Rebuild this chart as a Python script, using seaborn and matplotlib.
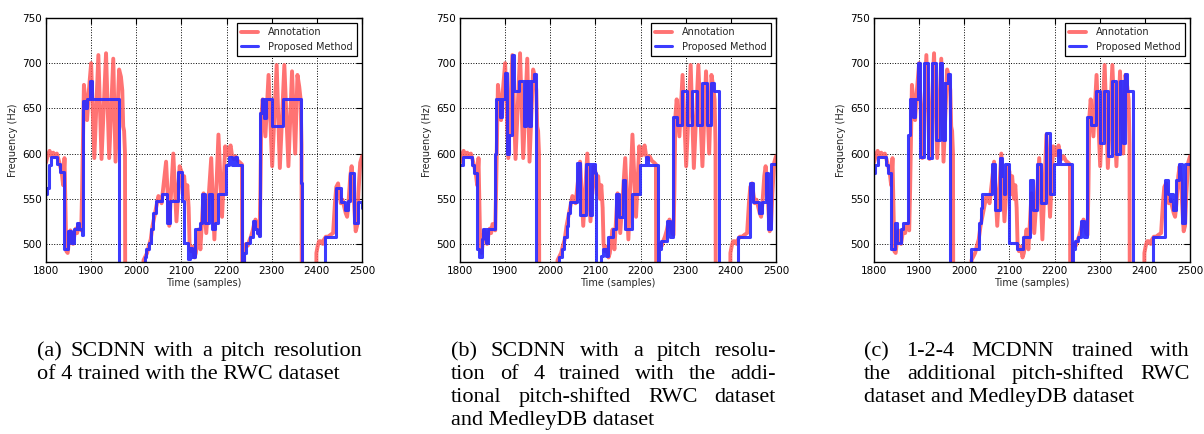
import numpy as np
import pandas as pd
import matplotlib
matplotlib.use("Agg")
import matplotlib.pyplot as plt
import seaborn as sns

# ---------------- data ----------------
# Annotation (same for all panels): knot times and frequencies (0 = unvoiced)
ann_t = [1800, 1804, 1808, 1812, 1816, 1820, 1824, 1828, 1832, 1835, 1838, 1841, 1845, 1848,
         1851, 1854, 1857, 1860, 1863, 1866, 1869, 1872, 1876, 1878, 1880, 1884, 1887, 1891,
         1895, 1900, 1907, 1916, 1923, 1933, 1940, 1949, 1954, 1962, 1966, 1969, 1971, 1973,
         1975, 1977, 2014, 2016, 2020, 2024, 2028, 2032, 2036, 2040, 2044, 2049, 2052, 2056,
         2066, 2073, 2082, 2089, 2096, 2100, 2103, 2106, 2110, 2113, 2116, 2118, 2121, 2125,
         2129, 2132, 2135, 2138, 2142, 2149, 2155, 2166, 2173, 2182, 2190, 2197, 2200, 2203,
         2206, 2209, 2212, 2216, 2220, 2225, 2230, 2234, 2237, 2239, 2243, 2247, 2250, 2254,
         2258, 2261, 2264, 2267, 2270, 2273, 2275, 2277, 2280, 2286, 2293, 2301, 2311, 2318,
         2328, 2337, 2345, 2352, 2357, 2361, 2364, 2366, 2368, 2397, 2399, 2402, 2405, 2409,
         2413, 2416, 2420, 2425, 2430, 2436, 2440, 2443, 2447, 2450, 2453, 2457, 2461, 2464,
         2467, 2470, 2474, 2477, 2480, 2483, 2486, 2489, 2492, 2496, 2500]
ann_hz = [590, 598, 603, 597, 601, 596, 600, 593, 585, 578, 565, 595, 492, 490,
          505, 515, 508, 500, 510, 517, 512, 522, 518, 515, 560, 676, 660, 637,
          670, 700, 595, 709, 594, 711, 595, 705, 591, 693, 685, 670, 630, 625,
          600, 0, 0, 482, 486, 490, 498, 505, 520, 530, 540, 553, 550, 545,
          591, 520, 600, 525, 586, 580, 555, 575, 550, 565, 540, 500, 492, 497,
          485, 490, 505, 516, 494, 556, 512, 595, 505, 621, 530, 608, 600, 598,
          606, 609, 598, 594, 597, 592, 590, 588, 0, 495, 500, 498, 503, 508,
          515, 522, 527, 522, 512, 510, 560, 640, 660, 619, 687, 586, 698, 584,
          698, 586, 691, 600, 687, 674, 660, 610, 0, 0, 490, 498, 503, 503,
          500, 505, 508, 508, 510, 512, 545, 563, 567, 555, 545, 549, 540, 534,
          530, 545, 575, 586, 570, 540, 514, 520, 556, 590, 597]

# Proposed method, panel (a): step start times and values
a_t = [1800, 1803, 1806, 1812, 1825, 1830, 1840, 1848, 1855, 1862, 1868, 1874, 1879, 1882,
       1886, 1890, 1897, 1902, 1962, 2019, 2022, 2029, 2033, 2038, 2044, 2058, 2067, 2074,
       2092, 2101, 2105, 2115, 2119, 2124, 2130, 2142, 2146, 2153, 2160, 2168, 2175, 2180,
       2199, 2205, 2212, 2218, 2224, 2235, 2239, 2243, 2251, 2258, 2263, 2267, 2271, 2275,
       2279, 2283, 2287, 2300, 2324, 2364, 2366, 2417, 2443, 2453, 2462, 2468, 2474, 2482,
       2491, 2500]
a_hz = [555, 562, 587, 596, 588, 580, 494, 514, 501, 516, 523, 516, 510, 658,
        650, 660, 680, 660, 0, 485, 494, 501, 516, 534, 547, 555, 523, 547,
        580, 547, 501, 483, 496, 486, 516, 523, 555, 523, 555, 516, 523, 555,
        587, 596, 587, 596, 587, 0, 490, 501, 508, 525, 516, 512, 509, 645,
        660, 639, 660, 631, 660, 567, 0, 508, 562, 546, 537, 548, 578, 523,
        546, 540]

# Proposed method, panel (b)
b_t = [1800, 1806, 1826, 1830, 1838, 1843, 1848, 1852, 1857, 1862, 1878, 1880, 1888, 1894,
       1899, 1904, 1909, 1915, 1920, 1931, 1941, 1946, 1952, 1957, 1963, 1968, 2019, 2025,
       2030, 2036, 2040, 2043, 2059, 2066, 2080, 2087, 2093, 2099, 2102, 2112, 2117, 2123,
       2128, 2140, 2146, 2153, 2160, 2166, 2182, 2199, 2212, 2216, 2238, 2240, 2245, 2253,
       2259, 2266, 2272, 2281, 2292, 2302, 2313, 2324, 2336, 2347, 2356, 2362, 2373, 2416,
       2443, 2450, 2463, 2468, 2478, 2483, 2490, 2500]
b_hz = [587, 596, 587, 579, 494, 486, 505, 516, 501, 516, 600, 660, 640, 660,
        689, 600, 620, 709, 669, 680, 631, 680, 631, 680, 688, 0, 486, 494,
        508, 520, 534, 546, 590, 532, 588, 532, 588, 578, 0, 487, 494, 487,
        508, 516, 555, 530, 571, 516, 555, 587, 596, 587, 0, 494, 503, 503,
        525, 508, 641, 632, 669, 632, 669, 632, 678, 632, 678, 669, 0, 508,
        567, 546, 534, 546, 578, 516, 588, 588]

# Proposed method, panel (c)
c_t = [1800, 1803, 1809, 1826, 1830, 1838, 1847, 1852, 1859, 1864, 1876, 1879, 1886, 1891,
       1897, 1903, 1910, 1919, 1929, 1937, 1946, 1950, 1953, 1957, 1963, 1968, 2014, 2032,
       2036, 2040, 2061, 2068, 2079, 2083, 2088, 2090, 2100, 2116, 2130, 2145, 2152, 2161,
       2169, 2181, 2190, 2199, 2207, 2213, 2238, 2240, 2245, 2253, 2259, 2266, 2272, 2281,
       2292, 2301, 2310, 2318, 2327, 2336, 2345, 2351, 2356, 2360, 2373, 2419, 2444, 2452,
       2455, 2459, 2462, 2470, 2476, 2482, 2490, 2500]
c_hz = [578, 587, 596, 587, 579, 494, 523, 501, 516, 523, 621, 660, 640, 660,
        700, 596, 700, 595, 700, 615, 700, 678, 615, 678, 688, 0, 494, 523,
        540, 555, 588, 538, 595, 575, 555, 588, 501, 494, 508, 571, 538, 588,
        545, 623, 555, 588, 604, 588, 0, 494, 503, 508, 525, 508, 641, 632,
        669, 612, 669, 597, 680, 600, 680, 612, 688, 669, 0, 508, 571, 555,
        547, 555, 538, 571, 588, 523, 588, 588]

x_ticks = [1800, 1900, 2000, 2100, 2200, 2300, 2400, 2500]
y_ticks = [500, 550, 600, 650, 700, 750]
series_names = ["Annotation", "Proposed Method"]
x_label = "Time (samples)"
y_label = "Frequency (Hz)"

captions = [
    [("(a) SCDNN with a pitch resolution", True), ("of 4 trained with the RWC dataset", False)],
    [("(b) SCDNN with a pitch resolu-", True), ("tion of 4 trained with the addi-", True),
     ("tional pitch-shifted RWC dataset", True), ("and MedleyDB dataset", False)],
    [("(c) 1-2-4 MCDNN trained with", True), ("the additional pitch-shifted RWC", True),
     ("dataset and MedleyDB dataset", False)],
]

# ---------------- style ----------------
sns.set_style("white")
plt.rcParams["font.family"] = ["DejaVu Sans"]
plt.rcParams.update({
    "xtick.direction": "in", "ytick.direction": "in",
    "xtick.top": True, "ytick.right": True,
    "xtick.major.size": 4, "ytick.major.size": 4,
    "xtick.color": "black", "ytick.color": "black",
    "axes.edgecolor": "black", "axes.linewidth": 1.0,
})

W, H = 1204, 434
fig = plt.figure(figsize=(W / 100, H / 100), dpi=100)

RED = "#ff5a5a"
BLUE = "#2b2bff"

panel_left = [46, 460, 874]
blue_sets = [(a_t, a_hz), (b_t, b_hz), (c_t, c_hz)]
ax_top, ax_bot = 18, 262
ax_w = 316

ann_df = pd.DataFrame({"t": ann_t, "hz": ann_hz})

for i, left in enumerate(panel_left):
    ax = fig.add_axes([left / W, 1 - ax_bot / H, ax_w / W, (ax_bot - ax_top) / H])
    bt, bh = blue_sets[i]
    bdf = pd.DataFrame({"t": bt, "hz": bh})
    sns.lineplot(data=ann_df, x="t", y="hz", ax=ax, color=RED, lw=2.8, alpha=0.85,
                 estimator=None, sort=False, label=series_names[0])
    sns.lineplot(data=bdf, x="t", y="hz", ax=ax, color=BLUE, lw=2.2, alpha=0.92,
                 estimator=None, sort=False, drawstyle="steps-post", label=series_names[1])
    ax.set_xlim(1800, 2500)
    ax.set_ylim(480, 750)
    ax.set_xticks(x_ticks)
    ax.set_yticks(y_ticks)
    ax.tick_params(labelsize=7.5, pad=3)
    ax.grid(True, color="black", linestyle=":", linewidth=0.7)
    ax.set_xlabel(x_label, fontsize=7, labelpad=1)
    ax.set_ylabel(y_label, fontsize=7, labelpad=3)
    leg = ax.legend(loc="upper right", fontsize=7, frameon=True, fancybox=False,
                    edgecolor="black", framealpha=1, borderaxespad=0.5,
                    handlelength=1.8, handletextpad=1.0, borderpad=0.45, labelspacing=0.45)
    leg.get_frame().set_linewidth(0.9)
    for sp in ax.spines.values():
        sp.set_visible(True)
        sp.set_color("black")

# ---------------- captions (justified) ----------------
renderer = fig.canvas.get_renderer()
cap_cols = [(37, 362), (451, 776), (864, 1190)]
baselines = [356, 379, 402, 425]
cap_kw = dict(fontsize=16, family=["Liberation Serif", "DejaVu Serif"], va="baseline", ha="left",
              color="black")

for (x0, x1), lines in zip(cap_cols, captions):
    for (text, justify), yb in zip(lines, baselines):
        yf = 1 - yb / H
        if not justify:
            fig.text(x0 / W, yf, text, **cap_kw)
            continue
        words = text.split(" ")
        objs = [fig.text(0, yf, w, **cap_kw) for w in words]
        widths = [o.get_window_extent(renderer).width for o in objs]
        gap = (x1 - x0 - sum(widths)) / (len(words) - 1)
        x = x0
        for o, w in zip(objs, widths):
            o.set_x(x / W)
            x += w + gap

fig.savefig("out.png", dpi=100)
